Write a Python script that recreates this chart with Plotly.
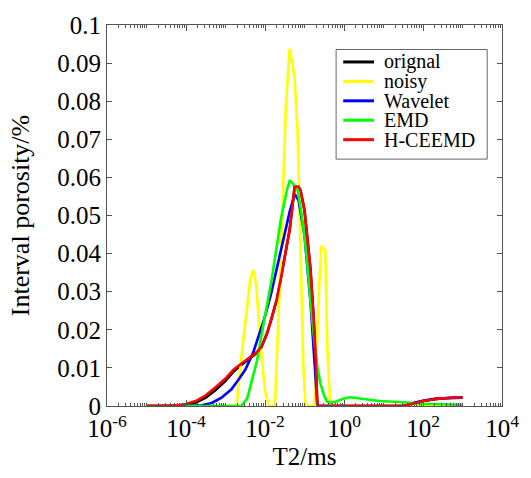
import numpy as np
import plotly.graph_objects as go

# ---- data (log10 of T2 in ms, interval porosity) ----
orig_logT2 = [-5, -4.5, -4.2, -4.0, -3.75, -3.5, -3.25, -3.0, -2.8, -2.6, -2.35, -2.2, -2.1, -1.95, -1.85,
              -1.7, -1.6, -1.5, -1.375, -1.3, -1.25, -1.15, -1.1, -1.0, -0.92, -0.85, -0.78, -0.725, -0.675,
              0, 1, 1.5, 1.8, 2.0, 2.3, 2.6, 3.0]
orig_val = [0, 0, 0.0001, 0.0003, 0.0009, 0.0022, 0.0042, 0.0066, 0.009, 0.0108, 0.0127, 0.0140, 0.0152,
            0.019, 0.0224, 0.028, 0.0334, 0.039, 0.0463, 0.053, 0.0575, 0.0576, 0.0565, 0.0514, 0.044, 0.036,
            0.025, 0.0147, 0, 0, 0, 0, 0.0008, 0.0013, 0.0018, 0.0021, 0.0023]

noisy_logT2 = [-5, -2.72, -2.6, -2.45, -2.375, -2.3, -2.225, -2.1, -2.0, -1.9, -1.75, -1.625, -1.5, -1.47,
               -1.375, -1.25, -1.175, -1.1, -1.03, -0.975, -0.75, -0.625, -0.575, -0.475, -0.42, -0.35, 3]
noisy_val = [0, 0, 0.0126, 0.0267, 0.033, 0.0357, 0.032, 0.0147, 0.004, 0, 0, 0.032, 0.066, 0.079,
             0.0938, 0.0861, 0.072, 0.040, 0.011, 0, 0, 0.032, 0.042, 0.041, 0.015, 0, 0]

wav_logT2 = [-5, -4, -3.6, -3.35, -3.1, -2.85, -2.65, -2.5, -2.3, -2.18, -2.0, -1.85, -1.7, -1.5, -1.375,
             -1.25, -1.15, -1.0, -0.9, -0.85, -0.75, -0.7, -0.675, 0, 1, 1.5, 1.8, 2.0, 2.3, 2.6, 3.0]
wav_val = [0, 0, 0.0002, 0.0008, 0.0022, 0.0044, 0.0072, 0.0095, 0.0140, 0.018, 0.0235, 0.0293, 0.036,
           0.0447, 0.051, 0.0556, 0.054, 0.0447, 0.034, 0.0275, 0.012, 0.004, 0, 0, 0, 0, 0.0009, 0.0014,
           0.0019, 0.0021, 0.0022]

emd_logT2 = [-5, -3, -2.6, -2.45, -2.35, -2.2, -2.1, -1.95, -1.85, -1.7, -1.6, -1.45, -1.375, -1.3, -1.175,
             -1.1, -1.0, -0.9, -0.85, -0.75, -0.675, -0.6, -0.5, -0.43, -0.35, -0.2, 0, 0.15, 0.4, 0.9,
             1.5, 2, 3]
emd_val = [0, 0, 0, 0.002, 0.0062, 0.012, 0.018, 0.026, 0.032, 0.042, 0.0489, 0.0565, 0.0591, 0.0585,
           0.0566, 0.052, 0.0447, 0.034, 0.0275, 0.017, 0.0103, 0.006, 0.0026, 0.0012, 0.0008, 0.0012,
           0.002, 0.0023, 0.002, 0.0013, 0.001, 0.0006, 0.0003]

hc_logT2 = [-5, -4.5, -4.2, -4.0, -3.75, -3.5, -3.25, -3.0, -2.8, -2.6, -2.35, -2.2, -2.1, -1.95, -1.85,
            -1.7, -1.6, -1.5, -1.375, -1.3, -1.25, -1.15, -1.1, -1.0, -0.92, -0.85, -0.78, -0.725, -0.675,
            0, 1, 1.5, 1.8, 2.0, 2.3, 2.6, 3.0]
hc_val = [0, 0, 0.0002, 0.0005, 0.0013, 0.0028, 0.0049, 0.0072, 0.0095, 0.011, 0.0129, 0.0142, 0.0154,
          0.019, 0.0224, 0.028, 0.0334, 0.039, 0.0463, 0.053, 0.0575, 0.0576, 0.0565, 0.0514, 0.044, 0.036,
          0.025, 0.0147, 0, 0, 0, 0, 0.0008, 0.0013, 0.0018, 0.0021, 0.0023]

series_names = ["orignal", "noisy", "Wavelet", "EMD", "H-CEEMD"]
series_colors = ["#000000", "#FFFF00", "#0000FF", "#00FF00", "#FF0000"]

x_tickvals = [1e-6, 1e-4, 1e-2, 1e0, 1e2, 1e4]
x_ticktext = ["10<sup>-6</sup>", "10<sup>-4</sup>", "10<sup>-2</sup>", "10<sup>0</sup>",
              "10<sup>2</sup>", "10<sup>4</sup>"]
y_tickvals = [0, 0.01, 0.02, 0.03, 0.04, 0.05, 0.06, 0.07, 0.08, 0.09, 0.1]
y_ticktext = ["0", "0.01", "0.02", "0.03", "0.04", "0.05", "0.06", "0.07", "0.08", "0.09", "0.1"]

data = [(orig_logT2, orig_val), (noisy_logT2, noisy_val), (wav_logT2, wav_val),
        (emd_logT2, emd_val), (hc_logT2, hc_val)]

FONT = "Liberation Serif"
AX = "#555555"

fig = go.Figure()
for (lx, v), name, col in zip(data, series_names, series_colors):
    fig.add_trace(go.Scatter(x=np.power(10.0, np.array(lx)), y=v, mode="lines", name=name,
                             line=dict(color=col, width=2.6), showlegend=False))

# ---- legend box drawn in paper coordinates (compact line spacing like the original) ----
leg_x0, leg_x1, leg_y0, leg_y1 = 0.58, 0.9625, 0.648, 0.9357
fig.add_shape(type="rect", xref="paper", yref="paper", x0=leg_x0, x1=leg_x1, y0=leg_y0, y1=leg_y1,
              line=dict(color="#666666", width=1), fillcolor="white", layer="above")
row_y = [0.903, 0.852, 0.801, 0.750, 0.699]
for ry, name, col in zip(row_y, series_names, series_colors):
    fig.add_shape(type="line", xref="paper", yref="paper", x0=0.598, x1=0.676, y0=ry, y1=ry,
                  line=dict(color=col, width=3), layer="above")
    fig.add_annotation(xref="paper", yref="paper", x=0.6975, y=ry, xanchor="left", yanchor="middle",
                       text=name, showarrow=False, borderpad=0,
                       font=dict(family=FONT, size=20, color="black"))

fig.update_layout(
    width=531, height=478,
    margin=dict(l=107, r=24, t=18, b=71),
    paper_bgcolor="white", plot_bgcolor="white",
    font=dict(family=FONT, color="black"),
    showlegend=False,
)
fig.update_xaxes(
    type="log", range=[-6, 4],
    tickmode="array", tickvals=x_tickvals, ticktext=x_ticktext,
    ticks="inside", ticklen=6, tickcolor=AX,
    minor=dict(ticks="inside", ticklen=3, tickcolor=AX, dtick="D1", showgrid=False),
    showline=True, linecolor=AX, linewidth=1, mirror="ticks",
    showgrid=False, zeroline=False,
    tickfont=dict(family=FONT, size=25, color="black"),
    title=dict(text="T2/ms", font=dict(family=FONT, size=25, color="black"), standoff=6),
)
fig.update_yaxes(
    range=[0, 0.1],
    tickmode="array", tickvals=y_tickvals, ticktext=y_ticktext,
    ticks="inside", ticklen=5, tickcolor=AX,
    showline=True, linecolor=AX, linewidth=1, mirror="ticks",
    showgrid=False, zeroline=False,
    tickfont=dict(family=FONT, size=25, color="black"),
    title=dict(text="Interval porosity/%", font=dict(family=FONT, size=26, color="black"), standoff=20),
)

fig.write_html("out.html")
